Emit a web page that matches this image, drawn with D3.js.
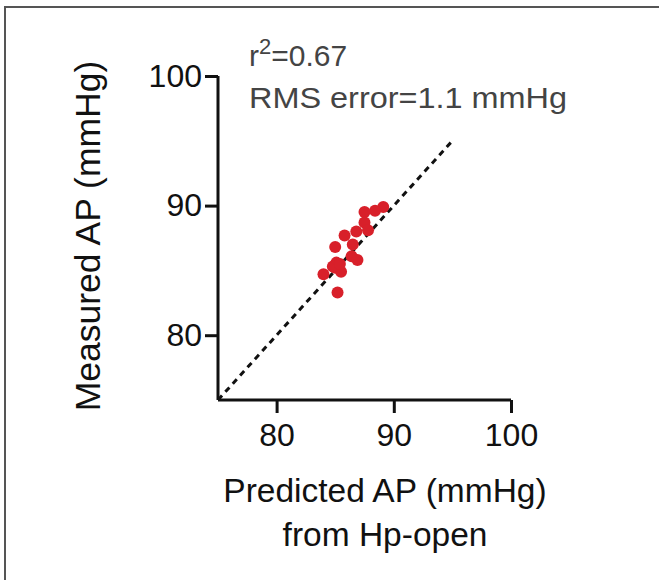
<!DOCTYPE html>
<meta charset="utf-8">
<html>
<head>
<style>
  body { margin: 0; background: #fff; }
  svg { display: block; }
  text { font-family: "Liberation Sans", Arial, sans-serif; }
</style>
</head>
<body>
<svg width="659" height="580"></svg>
<script src="https://d3js.org/d3.v7.min.js"></script>
<script>
// predicted AP (x) and measured AP (y), mmHg
var predicted = [89.1, 88.4, 87.5, 87.5, 87.8, 86.8, 85.8, 86.5, 85.0, 86.4, 86.9, 85.1, 85.0, 85.5, 84.0, 85.2, 84.8, 85.4];
var measured  = [89.9, 89.6, 89.5, 88.7, 88.1, 88.0, 87.7, 87.0, 86.8, 86.1, 85.8, 85.6, 85.2, 84.9, 84.7, 83.3, 85.3, 85.5];
var xTicks = [80, 90, 100];
var yTicks = [80, 90, 100];
var identity = [75, 95];

var svg = d3.select("svg");

// frame around the panel (only top and left show in the picture)
svg.append("rect")
    .attr("x", 5).attr("y", 7)
    .attr("width", 700).attr("height", 620)
    .attr("fill", "none")
    .attr("stroke", "#555")
    .attr("stroke-width", 2);

var x = d3.scaleLinear().domain([75, 100]).range([218, 511]);
var y = d3.scaleLinear().domain([75, 100]).range([400, 76]);

// axes
var xAxis = svg.append("g")
    .attr("transform", "translate(0,400)")
    .call(d3.axisBottom(x).tickValues(xTicks).tickSize(13).tickSizeOuter(0).tickPadding(10));
var yAxis = svg.append("g")
    .attr("transform", "translate(218,0)")
    .call(d3.axisLeft(y).tickValues(yTicks).tickSize(13).tickSizeOuter(0).tickPadding(3));

[xAxis, yAxis].forEach(function(a) {
    a.select(".domain").attr("stroke", "#111").attr("stroke-width", 3);
    a.selectAll(".tick line").attr("stroke", "#111").attr("stroke-width", 3);
    a.selectAll(".tick text")
        .attr("fill", "#111")
        .style("font-size", "32px")
        .style("font-family", "'Liberation Sans', Arial, sans-serif");
});
// axis lines only over the data range
yAxis.select(".domain").attr("d", "M0," + y(100) + "V" + y(75));
xAxis.select(".domain").attr("d", "M" + x(75) + ",0H" + x(100));

// identity line
svg.append("line")
    .attr("x1", x(identity[0])).attr("y1", y(identity[0]))
    .attr("x2", x(identity[1])).attr("y2", y(identity[1]))
    .attr("stroke", "#111")
    .attr("stroke-width", 3)
    .attr("stroke-dasharray", "6,5");

// points
svg.selectAll("circle.pt")
    .data(predicted)
    .enter().append("circle")
    .attr("class", "pt")
    .attr("cx", function(d) { return x(d); })
    .attr("cy", function(d, i) { return y(measured[i]); })
    .attr("r", 6)
    .attr("fill", "#d8202a");

// annotation
var ann = svg.append("text")
    .attr("x", 249).attr("y", 66)
    .attr("fill", "#444")
    .style("font-size", "30px");
ann.append("tspan").text("r");
ann.append("tspan").attr("dy", -12).style("font-size", "22px").text("2");
ann.append("tspan").attr("dy", 12).text("=0.67");

svg.append("text")
    .attr("x", 249).attr("y", 108)
    .attr("fill", "#444")
    .style("font-size", "30px")
    .attr("textLength", 318)
    .attr("lengthAdjust", "spacingAndGlyphs")
    .text("RMS error=1.1  mmHg");

// axis titles
svg.append("text")
    .attr("transform", "translate(100,236) rotate(-90)")
    .attr("text-anchor", "middle")
    .attr("fill", "#111")
    .style("font-size", "35.5px")
    .text("Measured AP (mmHg)");

svg.append("text")
    .attr("x", 385).attr("y", 502)
    .attr("text-anchor", "middle")
    .attr("fill", "#111")
    .style("font-size", "33.5px")
    .text("Predicted AP (mmHg)");

svg.append("text")
    .attr("x", 385).attr("y", 546)
    .attr("text-anchor", "middle")
    .attr("fill", "#111")
    .style("font-size", "33.5px")
    .text("from Hp-open");
</script>
</body>
</html>
